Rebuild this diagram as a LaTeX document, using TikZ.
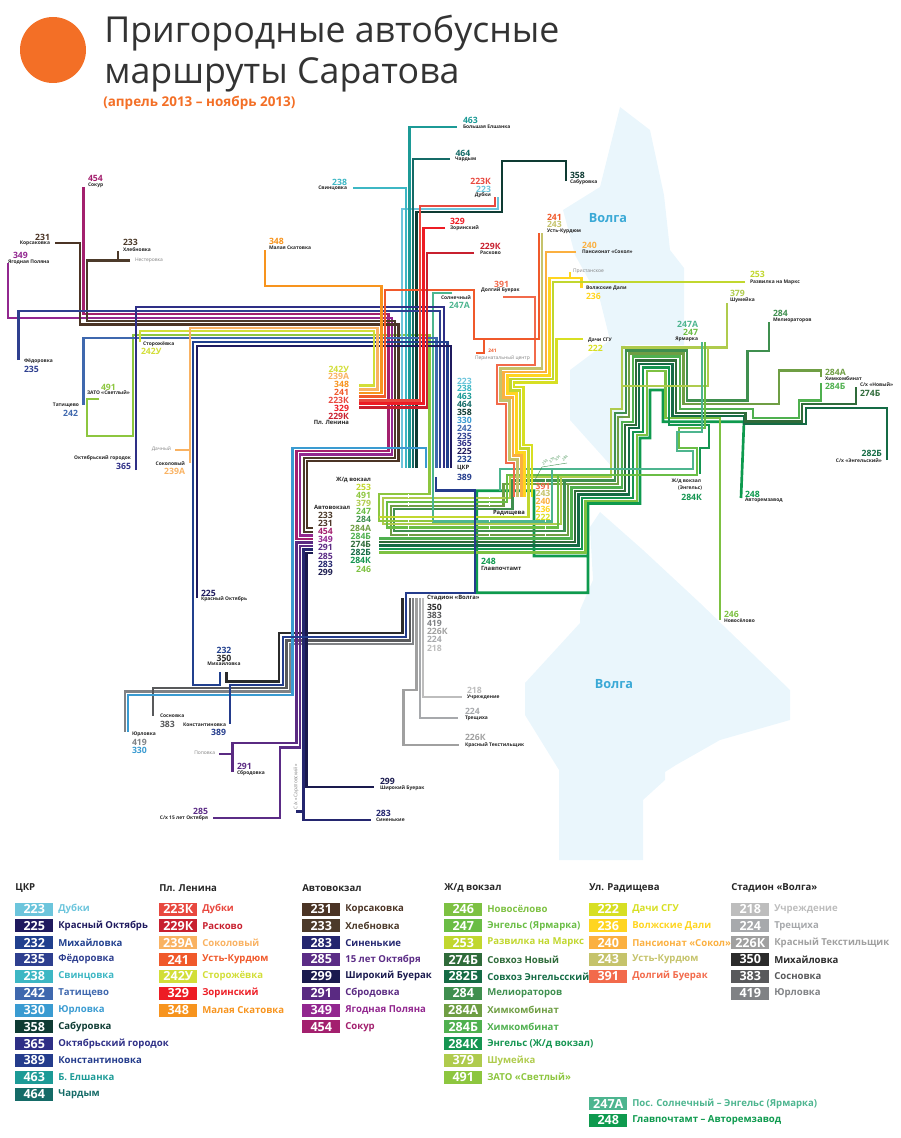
\documentclass[tikz,border=0pt]{standalone}
\usepackage{fontspec}
\setmainfont{Open Sans}
\usetikzlibrary{positioning}
% legend colours
\definecolor{c223}{HTML}{6CC5DC}\definecolor{c225}{HTML}{1F1A5E}\definecolor{c232}{HTML}{21408E}
\definecolor{c235}{HTML}{2E3F8F}\definecolor{c238}{HTML}{3DB7C4}\definecolor{c242}{HTML}{3F68AE}
\definecolor{c330}{HTML}{3A9BD1}\definecolor{c358}{HTML}{0E3B33}\definecolor{c365}{HTML}{2E2F86}
\definecolor{c389}{HTML}{243C8C}\definecolor{c463}{HTML}{1C9A96}\definecolor{c464}{HTML}{156B67}
\definecolor{c223k}{HTML}{E8483F}\definecolor{c229k}{HTML}{C8202F}\definecolor{c239a}{HTML}{F9B262}
\definecolor{c241}{HTML}{F0592B}\definecolor{c242u}{HTML}{D2DE38}\definecolor{c329}{HTML}{ED1C24}
\definecolor{c348}{HTML}{F7941E}\definecolor{c231}{HTML}{4B3425}\definecolor{c233}{HTML}{4C3A2A}
\definecolor{c283}{HTML}{24266F}\definecolor{c285}{HTML}{5B2C86}\definecolor{c299}{HTML}{1A1A4E}
\definecolor{c291}{HTML}{5A2A82}\definecolor{c349}{HTML}{92278F}\definecolor{c454}{HTML}{A3206E}
\definecolor{c246}{HTML}{7DC142}\definecolor{c247}{HTML}{6ABD45}\definecolor{c253}{HTML}{C1D72F}
\definecolor{c274b}{HTML}{2F6B3A}\definecolor{c282b}{HTML}{156B45}\definecolor{c284}{HTML}{3F8F4F}
\definecolor{c284a}{HTML}{6F9E44}\definecolor{c284b}{HTML}{4FB04F}\definecolor{c284k}{HTML}{159551}
\definecolor{c379}{HTML}{AFCB4D}\definecolor{c491}{HTML}{8DC63F}\definecolor{c222}{HTML}{D7DF23}
\definecolor{c236}{HTML}{FFD520}\definecolor{c240}{HTML}{FBB040}\definecolor{c243}{HTML}{C5C36B}
\definecolor{c391}{HTML}{F26A4B}\definecolor{c218}{HTML}{BDBDBD}\definecolor{c224}{HTML}{A7A9AC}
\definecolor{c226k}{HTML}{A0A0A0}\definecolor{c350}{HTML}{2B2B2B}\definecolor{c383}{HTML}{58595B}
\definecolor{c419}{HTML}{808285}\definecolor{c247a}{HTML}{4DB58F}\definecolor{c248}{HTML}{0E9A4E}
\definecolor{corange}{HTML}{F36F26}\definecolor{cwater}{HTML}{EAF6FC}\definecolor{criver}{HTML}{3AA9D6}
\tikzset{
	route/.style={line width=2pt},
	numlbl/.style={font=\fontsize{6.5}{7}\selectfont\bfseries, inner sep=0pt, outer sep=0pt, text height=5.2pt, text depth=.7pt},
	stoplbl/.style={font=\fontsize{3.7}{5}\selectfont\bfseries, inner sep=0pt, outer sep=0pt, text=black!85},
	greylbl/.style={font=\fontsize{3.7}{5}\selectfont, inner sep=0pt, outer sep=0pt, text=black!50},
	hublbl/.style={font=\fontsize{4.4}{6}\selectfont\bfseries, inner sep=0pt, outer sep=0pt, text=black!85},
	tinylbl/.style={font=\fontsize{2.8}{3}\selectfont, inner sep=0pt, outer sep=0pt, rotate=45, text=c284},
	stackW/.style={below=of #1.south west, anchor=north west},
	stackE/.style={below=of #1.south east, anchor=north east},
	legbox/.style={anchor=west, inner sep=0pt, minimum width=28.5pt, minimum height=9.75pt, text=white, font=\fontsize{9.4}{10}\selectfont\bfseries},
	legname/.style={anchor=west, inner sep=0pt, font=\fontsize{7.2}{8}\selectfont\bfseries},
	leghead/.style={anchor=west, inner sep=0pt, font=\fontsize{7.2}{8}\selectfont\bfseries, text=black!85}
}
\newcommand{\route}[2]{\draw[route, draw=#1] #2;}
\newcommand{\legrow}[6]{%
	\node[legbox, fill=#4] (box#1) at (#2,#3) {#5};
	\node[legname, text=#4] (txt#1) at ({#2+43},#3) {#6};}
\begin{document}
\begin{tikzpicture}[x=.75pt, y=-.75pt, node distance=0pt]
	\useasboundingbox (0,0) rectangle (900,1138);
	% river
	\fill[cwater] (620,107) -- (650,130) -- (664,195) -- (670,250) -- (684,268) -- (684,345) -- (625,345) -- (622,478) -- (570,420) -- (570,370) -- (610,340) -- (600,300) -- (575,255) -- (563,210) -- (600,187) -- cycle;
	\fill[cwater] (600,512) -- (643,550) -- (700,603) -- (790,690) -- (790,720) -- (720,740) -- (676,765) -- (665,772) -- (665,780) -- (643,800) -- (643,860) -- (559,860) -- (559,770) -- (525,715) -- (525,683) -- (580,623) -- (580,610) -- (593,580) -- (590,527) -- cycle;
	\node[font=\fontsize{9.5}{10}\selectfont\bfseries, text=criver, inner sep=0pt] (volgaup) at (608,218) {Волга};
	\node[font=\fontsize{9.5}{10}\selectfont\bfseries, text=criver, inner sep=0pt] (volgalow) at (614,684) {Волга};
	% title
	\fill[corange] (53,50) circle (33);
	\node[anchor=base west, inner sep=0pt, font=\fontsize{26.8}{28}\selectfont, text=black!80] (title1) at (104,43) {Пригородные автобусные};
	\node[anchor=base west, inner sep=0pt, font=\fontsize{26.8}{28}\selectfont, text=black!80] (title2) at (104,84) {маршруты Саратова};
	\node[anchor=west, inner sep=0pt, font=\fontsize{10.1}{11}\selectfont\bfseries, text=corange] (period) at (103,103) {(апрель 2013 – ноябрь 2013)};
	% Stadion Volga
	\route{c218}{(423,598) -- (423,697) -- (461.7,697)}
	\route{c224}{(420,598) -- (420,718) -- (458,718)}
	\route{c226k}{(416.7,598) -- (416.7,690) -- (403.3,690) -- (403.3,745) -- (459,745)}
	\route{c419}{(413,598) -- (413,644) -- (290,644) -- (290,691.7) -- (125,691.7) -- (125,731.7)}
	\route{c383}{(410,598) -- (410,640.5) -- (286.7,640.5) -- (286.7,688) -- (153,688) -- (153,716)}
	\route{c350}{(402.7,598) -- (402.7,633) -- (279,633) -- (279,681.7) -- (226.7,681.7) -- (226.7,672)}
	% Zhd vokzal and the Volga bridge
	\route{c248}{(741,498) -- (744,421.7) -- (663,421.7) -- (663,390) -- (650,390) -- (650,438) -- (640,438) -- (640,503.5) -- (588,503.5) -- (588,556) -- (534,556) -- (534,490.7) -- (476.7,490.7) -- (476.7,592.7) -- (588,592.7) -- (588,556)}
	\route{c246}{(720,620) -- (720,418) -- (665.7,418) -- (665.7,371) -- (647,371) -- (647,435) -- (637,435) -- (637,501) -- (585.5,501) -- (585.5,552.7) -- (379,552.7)}
	\route{c284k}{(700,474) -- (700,448) -- (709,448) -- (709,425) -- (669,425) -- (669,367.7) -- (643,367.7) -- (643,432) -- (633,432) -- (633,498) -- (582,498) -- (582,549) -- (379,549)}
	\route{c282b}{(887,460) -- (887,408) -- (806,408) -- (806,424) -- (744,424) -- (744,416) -- (672.7,416) -- (672.7,364) -- (639,364) -- (639,428) -- (629,428) -- (629,494.5) -- (578.5,494.5) -- (578.5,545.5) -- (379,545.5)}
	\route{c274b}{(856,387) -- (856,404) -- (802,404) -- (802,421.7) -- (745.7,421.7) -- (745.7,413) -- (676,413) -- (676,360.7) -- (636,360.7) -- (636,425) -- (625,425) -- (625,491) -- (575,491) -- (575,542) -- (379,542)}
	\route{c284b}{(821,383) -- (821,400.7) -- (799,400.7) -- (799,418) -- (753,418) -- (753,409) -- (680,409) -- (680,356.7) -- (633,356.7) -- (633,422) -- (622,422) -- (622,487.5) -- (571.5,487.5) -- (571.5,538.4) -- (379,538.4)}
	\route{c284a}{(821,377) -- (821,370.7) -- (779,370.7) -- (779,404) -- (683.3,404) -- (683.3,353.7) -- (629,353.7) -- (629,417) -- (618,417) -- (618,484) -- (503.5,484) -- (503.5,506) -- (391,506) -- (391,535) -- (568,535) -- (568,484)}
	\route{c284}{(769,322) -- (769,351) -- (747.7,351) -- (747.7,400.7) -- (687,400.7) -- (687,350.7) -- (626,350.7) -- (626,413) -- (615,413) -- (615,480.5) -- (512.5,480.5) -- (512.5,509) -- (394,509) -- (394,531) -- (564.5,531) -- (564.5,480.5)}
	\route{c379}{(727,303) -- (727,347.7) -- (622,347.7) -- (622,409) -- (611,409) -- (611,477) -- (510,477) -- (510,498) -- (383,498) -- (383,524) -- (561,524) -- (561,477)}
	\route{c379}{(622,386) -- (708,386) -- (708,347.7)}
	\route{c247}{(705,342) -- (705,428) -- (679,428) -- (679,448) -- (697,448) -- (697,475) -- (507,475) -- (507,502) -- (387,502) -- (387,527.7) -- (558,527.7) -- (558,475)}
	\route{c247a}{(452,293) -- (433,293) -- (433,521.7) -- (552,521.7) -- (552,469) -- (693,469) -- (693,451) -- (677,451) -- (677,432) -- (702,432) -- (702,342)}
	\route{c247a}{(552,469) -- (500,469) -- (500,491)}
	\route{c491}{(99,399) -- (87,399) -- (87,436) -- (133,436) -- (133,335) -- (429.5,335) -- (429.5,494) -- (379,494) -- (379,521) -- (433,521)}
	% Radishcheva stairs
	\route{c391}{(503,297) -- (535,297) -- (535,365) -- (497,365) -- (497,404) -- (506,404) -- (506,463) -- (514,463) -- (514,497)}
	\route{c243}{(542,233) -- (542,368.5) -- (500.4,368.5) -- (500.4,400.6) -- (509.5,400.6) -- (509.5,459.4) -- (517.6,459.4) -- (517.6,497)}
	\route{c240}{(576,252) -- (546,252) -- (546,372) -- (503.8,372) -- (503.8,397.2) -- (513,397.2) -- (513,455.8) -- (521.2,455.8) -- (521.2,497)}
	\route{c236}{(581.7,288) -- (581.7,278) -- (549.5,278) -- (549.5,375.5) -- (507.2,375.5) -- (507.2,393.8) -- (516.5,393.8) -- (516.5,452.2) -- (524.8,452.2) -- (524.8,497)}
	\route{c236}{(570,278) -- (570,271.7)}
	\route{c253}{(745,282) -- (553,282) -- (553,379) -- (510.6,379) -- (510.6,390.4) -- (520,390.4) -- (520,448.6) -- (528.4,448.6) -- (528.4,517) -- (379,517)}
	\route{c222}{(583,339) -- (556.5,339) -- (556.5,382.5) -- (514,382.5) -- (514,387) -- (523.5,387) -- (523.5,445) -- (532,445) -- (532,497)}
	% Avtovokzal
	\route{c299}{(313,553) -- (306.7,553) -- (306.7,787) -- (374,787)}
	\route{c283}{(313,549.5) -- (303.3,549.5) -- (303.3,820) -- (370.7,820)}
	\route{c283}{(296,811.7) -- (303.3,811.7)}
	\route{c285}{(313,546) -- (300,546) -- (300,747.7) -- (280,747.7) -- (280,818) -- (212.7,818)}
	\route{c291}{(313,542.5) -- (296.7,542.5) -- (296.7,743) -- (232.7,743) -- (232.7,771.7)}
	\route{c291}{(219,754) -- (232.7,754)}
	\route{c454}{(83.3,187) -- (83.3,314) -- (388.7,314) -- (388.7,451) -- (296.7,451) -- (296.7,539) -- (313,539)}
	\route{c349}{(8,263) -- (8,318) -- (392,318) -- (392,454.5) -- (300,454.5) -- (300,535.5) -- (313,535.5)}
	\route{c233}{(130,260.7) -- (87,260.7) -- (87,321) -- (395,321) -- (395,458) -- (304,458) -- (304,532) -- (313,532)}
	\route{c233}{(118,251) -- (118,260.7)}
	\route{c231}{(55,243) -- (80,243) -- (80,324.7) -- (398.7,324.7) -- (398.7,461) -- (307,461) -- (307,528) -- (313,528)}
	% CKR
	\route{c223}{(498,197) -- (498,209) -- (402,209) -- (402,468)}
	\route{c238}{(353,188) -- (406,188) -- (406,468)}
	\route{c463}{(457,127) -- (409.5,127) -- (409.5,468)}
	\route{c464}{(450,159) -- (413,159) -- (413,468)}
	\route{c358}{(566,181) -- (566,161) -- (502,161) -- (502,212) -- (416.5,212) -- (416.5,468)}
	\route{c330}{(128,731.7) -- (128,695) -- (292.7,695) -- (292.7,448) -- (426,448) -- (426,468)}
	\route{c242}{(83.3,405) -- (83.3,338) -- (436.5,338) -- (436.5,468)}
	\route{c235}{(18.7,360) -- (18.7,311) -- (440,311) -- (440,468)}
	\route{c365}{(136,470) -- (136,307) -- (444,307) -- (444,468)}
	\route{c232}{(220,672) -- (220,685) -- (193,685) -- (193,342) -- (447.5,342) -- (447.5,468)}
	\route{c225}{(197,598) -- (197,346) -- (451,346) -- (451,468)}
	\route{c389}{(436,477) -- (436,490.7) -- (475,490.7) -- (475,593) -- (406,593) -- (406,637) -- (283,637) -- (283,685) -- (230,685) -- (230,724)}
	% Pl. Lenina
	\route{c242u}{(140,342) -- (140,331) -- (374,331) -- (374,385.7) -- (359,385.7)}
	\route{c239a}{(190,463) -- (190,328) -- (377.5,328) -- (377.5,389.3) -- (359,389.3)}
	\route{c239a}{(175,450) -- (190,450)}
	\route{c348}{(265,250) -- (265,286) -- (381.5,286) -- (381.5,393) -- (359,393)}
	\route{c241}{(539,233) -- (539,339) -- (474,339) -- (474,290) -- (385,290) -- (385,396.7) -- (359,396.7)}
	\route{c241}{(484,339) -- (484,353) -- (476,353)}
	\route{c223k}{(495,197) -- (495,206) -- (420,206) -- (420,400.3) -- (359,400.3)}
	\route{c329}{(445,228) -- (423.5,228) -- (423.5,403.8) -- (359,403.8)}
	\route{c229k}{(474,253) -- (427,253) -- (427,407.3) -- (359,407.3)}
	% white marks on the rows
	\draw[white, line width=.5pt, dashed] (408,494) -- (408,536) (489,494) -- (489,536) (545,470) -- (545,536);
	\draw[c284, line width=.3pt] (535,480) -- (542,467) -- (567,463);
	\node[tinylbl] (ti1) at (545,462) {253};
	\node[tinylbl] (ti2) at (552,460) {379};
	\node[tinylbl] (ti3) at (558,458) {491};
	\node[tinylbl] (ti4) at (565,458) {284};
	% map labels, north
	\node[numlbl, text=c463, anchor=west] (n463) at (463,120) {463};
	\node[stoplbl, anchor=west] (s463) at (463,127) {Большая Елшанка};
	\node[numlbl, text=c464, anchor=west] (n464) at (455.5,153) {464};
	\node[stoplbl, anchor=west] (s464) at (455,159) {Чардым};
	\node[numlbl, text=c358, anchor=west] (n358) at (570,175) {358};
	\node[stoplbl, anchor=west] (s358) at (570,182) {Сабуровка};
	\node[numlbl, text=c238, anchor=east] (n238) at (347,182) {238};
	\node[stoplbl, anchor=east] (s238) at (347,188) {Свинцовка};
	\node[numlbl, text=c223k, anchor=east] (n223k) at (491,181) {223К};
	\node[numlbl, text=c223, anchor=east] (n223) at (491,189) {223};
	\node[stoplbl, anchor=east] (s223) at (491,195) {Дубки};
	\node[numlbl, text=c329, anchor=west] (n329) at (450,221) {329};
	\node[stoplbl, anchor=west] (s329) at (450,228) {Зоринский};
	\node[numlbl, text=c229k, anchor=west] (n229k) at (480,246) {229К};
	\node[stoplbl, anchor=west] (s229k) at (480,253) {Расково};
	\node[numlbl, text=c241, anchor=west] (n241) at (547,217) {241};
	\node[numlbl, text=c243, anchor=west] (n243) at (547,224.7) {243};
	\node[stoplbl, anchor=west] (s241) at (547,231) {Усть-Курдюм};
	\node[numlbl, text=c240, anchor=west] (n240) at (582,245) {240};
	\node[stoplbl, anchor=west] (s240) at (582,252) {Пансионат «Сокол»};
	\node[greylbl, anchor=west] (pristan) at (573,271) {Пристанское};
	\node[stoplbl, anchor=west] (s236) at (586,288) {Волжские Дали};
	\node[numlbl, text=c236, anchor=west] (n236) at (586,296) {236};
	\node[stoplbl, anchor=west] (s222) at (588,340) {Дачи СГУ};
	\node[numlbl, text=c222, anchor=west] (n222) at (588,348) {222};
	\node[numlbl, text=c253, anchor=west] (n253) at (750,274) {253};
	\node[stoplbl, anchor=west] (s253) at (750,282) {Развилка на Маркс};
	\node[numlbl, text=c379, anchor=west] (n379) at (730,293) {379};
	\node[stoplbl, anchor=west] (s379) at (730,300) {Шумейка};
	\node[numlbl, text=c284, anchor=west] (n284) at (773,313) {284};
	\node[stoplbl, anchor=west] (s284) at (773,320) {Мелиораторов};
	\node[numlbl, text=c247a, anchor=east] (n247a) at (698,324.6) {247А};
	\node[numlbl, text=c247, anchor=east] (n247) at (698,332) {247};
	\node[stoplbl, anchor=east] (s247) at (698,339) {Ярмарка};
	\node[numlbl, text=c284a, anchor=west] (n284a) at (825,372) {284А};
	\node[stoplbl, anchor=west] (s284a) at (825,379) {Химкомбинат};
	\node[numlbl, text=c284b, anchor=west] (n284b) at (825,386) {284Б};
	\node[stoplbl, anchor=west] (s274b) at (860,385) {С/х «Новый»};
	\node[numlbl, text=c274b, anchor=west] (n274b) at (860,393) {274Б};
	\node[numlbl, text=c282b, anchor=east] (n282b) at (882,453) {282Б};
	\node[stoplbl, anchor=east] (s282b) at (882,461) {С/х «Энгельский»};
	\node[stoplbl, anchor=east] (s284k) at (701,481) {Ж/д вокзал};
	\node[stoplbl, anchor=east] (s284k2) at (702,488) {(Энгельс)};
	\node[numlbl, text=c284k, anchor=east] (n284k) at (702,497) {284К};
	\node[numlbl, text=c248, anchor=west] (n248e) at (745,494) {248};
	\node[stoplbl, anchor=west] (s248e) at (745,500) {Авторемзавод};
	\node[numlbl, text=c246, anchor=west] (n246e) at (724,614) {246};
	\node[stoplbl, anchor=west] (s246) at (724,621) {Новосёлово};
	\node[numlbl, text=c391, anchor=east] (n391) at (509,284) {391};
	\node[stoplbl, anchor=west] (s391) at (481,290) {Долгий Буерак};
	\node[font=\fontsize{3.6}{4}\selectfont\bfseries, text=c241, inner sep=0pt, anchor=west] (n241p) at (488,351) {241};
	\node[greylbl, anchor=west] (s241p) at (475,358) {Перинатальный центр};
	\node[stoplbl, anchor=west] (s247a) at (441,298) {Солнечный};
	\node[numlbl, text=c247a, anchor=west] (n247as) at (449,305) {247А};
	\node[numlbl, text=c248, anchor=west] (n248m) at (481,561) {248};
	\node[hublbl, anchor=west] (s248m) at (481,568) {Главпочтамт};
	% map labels, west
	\node[numlbl, text=c348, anchor=west] (n348) at (269,241) {348};
	\node[stoplbl, anchor=west] (s348) at (269,248) {Малая Скатовка};
	\node[numlbl, text=c454, anchor=west] (n454) at (88,178) {454};
	\node[stoplbl, anchor=west] (s454) at (88,185) {Сокур};
	\node[numlbl, text=c231, anchor=east] (n231) at (50,237) {231};
	\node[stoplbl, anchor=east] (s231) at (50,243) {Корсаковка};
	\node[numlbl, text=c233, anchor=west] (n233) at (123,242) {233};
	\node[stoplbl, anchor=west] (s233) at (123,250) {Хлебновка};
	\node[greylbl, anchor=west] (nest) at (135,260.5) {Нестеровка};
	\node[numlbl, text=c349, anchor=west] (n349) at (13,255) {349};
	\node[stoplbl, anchor=west] (s349) at (8,262) {Ягодная Поляна};
	\node[stoplbl, anchor=west] (s235) at (24,361) {Фёдоровка};
	\node[numlbl, text=c235, anchor=west] (n235) at (24,369) {235};
	\node[stoplbl, anchor=west] (s242u) at (143,344) {Сторожёвка};
	\node[numlbl, text=c242u, anchor=west] (n242u) at (141,351) {242У};
	\node[numlbl, text=c491, anchor=west] (n491) at (101,387) {491};
	\node[stoplbl, anchor=west] (s491) at (87,393) {ЗАТО «Светлый»};
	\node[stoplbl, anchor=east] (s242) at (79,405) {Татищево};
	\node[numlbl, text=c242, anchor=east] (n242) at (78,413) {242};
	\node[stoplbl, anchor=east] (s365) at (131,458) {Октябрьский городок};
	\node[numlbl, text=c365, anchor=east] (n365) at (131,466) {365};
	\node[greylbl, anchor=east] (dachny) at (171,449) {Дачный};
	\node[stoplbl, anchor=east] (s239a) at (185,464) {Соколовый};
	\node[numlbl, text=c239a, anchor=east] (n239a) at (185,471) {239А};
	\node[numlbl, text=c225, anchor=west] (n225) at (201,593) {225};
	\node[stoplbl, anchor=west] (s225) at (201,599) {Красный Октябрь};
	\node[numlbl, text=c232, anchor=center] (n232) at (224,650) {232};
	\node[numlbl, text=c350, anchor=center] (n350) at (224,658) {350};
	\node[stoplbl, anchor=center] (s232) at (224,664) {Михайловка};
	\node[stoplbl, anchor=west] (s383) at (160,716) {Сосновка};
	\node[numlbl, text=c383, anchor=west] (n383) at (160,724) {383};
	\node[stoplbl, anchor=west] (s419) at (132,734) {Юрловка};
	\node[numlbl, text=c419, anchor=west] (n419) at (132,742.7) {419};
	\node[numlbl, text=c330, anchor=west] (n330) at (132,750) {330};
	\node[stoplbl, anchor=east] (s389) at (226,725) {Константиновка};
	\node[numlbl, text=c389, anchor=east] (n389) at (226,732) {389};
	\node[greylbl, anchor=east] (popovka) at (215,753) {Поповка};
	\node[numlbl, text=c291, anchor=west] (n291) at (237,766) {291};
	\node[stoplbl, anchor=west] (s291) at (237,773) {Сбродовка};
	\node[numlbl, text=c285, anchor=east] (n285) at (208,811) {285};
	\node[stoplbl, anchor=east] (s285) at (208,818) {С/х 15 лет Октября};
	\node[numlbl, text=c299, anchor=west] (n299) at (380,781) {299};
	\node[stoplbl, anchor=west] (s299) at (380,788) {Широкий Буерак};
	\node[numlbl, text=c283, anchor=west] (n283) at (376,813) {283};
	\node[stoplbl, anchor=west] (s283) at (376,820) {Синенькие};
	\node[greylbl, rotate=90, anchor=west] (sarat) at (296,809) {С/х «Саратовский»};
	\node[numlbl, text=c218, anchor=west] (n218e) at (467,690) {218};
	\node[stoplbl, anchor=west] (s218) at (467,697) {Учреждение};
	\node[numlbl, text=c224, anchor=west] (n224e) at (465,711) {224};
	\node[stoplbl, anchor=west] (s224) at (465,718) {Трещиха};
	\node[numlbl, text=c226k, anchor=west] (n226e) at (465,737.6) {226К};
	\node[stoplbl, anchor=west] (s226) at (465,745) {Красный Текстильщик};
	% hubs with a stack of numbers
	\node[numlbl, text=c242u, anchor=east] (pl1) at (349,369) {242У};
	\node[numlbl, text=c239a, stackE=pl1] (pl2) {239А};
	\node[numlbl, text=c348, stackE=pl2] (pl3) {348};
	\node[numlbl, text=c241, stackE=pl3] (pl4) {241};
	\node[numlbl, text=c223k, stackE=pl4] (pl5) {223К};
	\node[numlbl, text=c329, stackE=pl5] (pl6) {329};
	\node[numlbl, text=c229k, stackE=pl6] (pl7) {229К};
	\node[hublbl, anchor=east] (plhub) at (349,422) {Пл. Ленина};
	\node[numlbl, text=c223, anchor=west] (ck1) at (457,381) {223};
	\node[numlbl, text=c238, stackW=ck1] (ck2) {238};
	\node[numlbl, text=c463, stackW=ck2] (ck3) {463};
	\node[numlbl, text=c464, stackW=ck3] (ck4) {464};
	\node[numlbl, text=c358, stackW=ck4] (ck5) {358};
	\node[numlbl, text=c330, stackW=ck5] (ck6) {330};
	\node[numlbl, text=c242, stackW=ck6] (ck7) {242};
	\node[numlbl, text=c235, stackW=ck7] (ck8) {235};
	\node[numlbl, text=c365, stackW=ck8] (ck9) {365};
	\node[numlbl, text=c225, stackW=ck9] (ck10) {225};
	\node[numlbl, text=c232, stackW=ck10] (ck11) {232};
	\node[hublbl, anchor=west] (ckhub) at (457,468) {ЦКР};
	\node[numlbl, text=c389, anchor=west] (ck12) at (457,477) {389};
	\begin{scope}[node distance=.25pt]
		\node[hublbl, anchor=east] (zdhub) at (371,480) {Ж/д вокзал};
		\node[numlbl, text=c253, anchor=east] (zd1) at (371,487) {253};
		\node[numlbl, text=c491, stackE=zd1] (zd2) {491};
		\node[numlbl, text=c379, stackE=zd2] (zd3) {379};
		\node[numlbl, text=c247, stackE=zd3] (zd4) {247};
		\node[numlbl, text=c284, stackE=zd4] (zd5) {284};
		\node[numlbl, text=c284a, stackE=zd5] (zd6) {284А};
		\node[numlbl, text=c284b, stackE=zd6] (zd7) {284Б};
		\node[numlbl, text=c274b, stackE=zd7] (zd8) {274Б};
		\node[numlbl, text=c282b, stackE=zd8] (zd9) {282Б};
		\node[numlbl, text=c284k, stackE=zd9] (zd10) {284К};
		\node[numlbl, text=c246, stackE=zd10] (zd11) {246};
		\node[hublbl, anchor=west] (avhub) at (314,507) {Автовокзал};
		\node[numlbl, text=c233, anchor=west] (av1) at (318,515) {233};
		\node[numlbl, text=c231, stackW=av1] (av2) {231};
		\node[numlbl, text=c454, stackW=av2] (av3) {454};
		\node[numlbl, text=c349, stackW=av3] (av4) {349};
		\node[numlbl, text=c291, stackW=av4] (av5) {291};
		\node[numlbl, text=c285, stackW=av5] (av6) {285};
		\node[numlbl, text=c283, stackW=av6] (av7) {283};
		\node[numlbl, text=c299, stackW=av7] (av8) {299};
		\node[hublbl, anchor=west] (sthub) at (427,598) {Стадион «Волга»};
		\node[numlbl, text=c350, anchor=west] (st1) at (427,607) {350};
		\node[numlbl, text=c383, stackW=st1] (st2) {383};
		\node[numlbl, text=c419, stackW=st2] (st3) {419};
		\node[numlbl, text=c226k, stackW=st3] (st4) {226К};
		\node[numlbl, text=c224, stackW=st4] (st5) {224};
		\node[numlbl, text=c218, stackW=st5] (st6) {218};
	\end{scope}
	\node[numlbl, text=c391, anchor=center] (ra1) at (543,486) {391};
	\node[numlbl, text=c243, stackW=ra1] (ra2) {243};
	\node[numlbl, text=c240, stackW=ra2] (ra3) {240};
	\node[numlbl, text=c236, stackW=ra3] (ra4) {236};
	\node[numlbl, text=c222, stackW=ra4] (ra5) {222};
	\node[hublbl, anchor=west] (rahub) at (493,513) {Радищева};
	% legend
	\node[leghead] (h1) at (15,888) {ЦКР};
	\legrow{a}{15}{909}{c223}{223}{Дубки}
	\legrow{b}{15}{925.8}{c225}{225}{Красный Октябрь}
	\legrow{c}{15}{942.6}{c232}{232}{Михайловка}
	\legrow{d}{15}{959.5}{c235}{235}{Фёдоровка}
	\legrow{e}{15}{976.3}{c238}{238}{Свинцовка}
	\legrow{f}{15}{993.1}{c242}{242}{Татищево}
	\legrow{g}{15}{1010}{c330}{330}{Юрловка}
	\legrow{h}{15}{1026.8}{c358}{358}{Сабуровка}
	\legrow{i}{15}{1043.6}{c365}{365}{Октябрьский городок}
	\legrow{j}{15}{1060.4}{c389}{389}{Константиновка}
	\legrow{k}{15}{1077.2}{c463}{463}{Б. Елшанка}
	\legrow{l}{15}{1094}{c464}{464}{Чардым}
	\node[leghead] (h2) at (159,888) {Пл. Ленина};
	\legrow{m}{159}{909}{c223k}{223К}{Дубки}
	\legrow{n}{159}{925.8}{c229k}{229К}{Расково}
	\legrow{o}{159}{942.6}{c239a}{239А}{Соколовый}
	\legrow{p}{159}{959.5}{c241}{241}{Усть-Курдюм}
	\legrow{q}{159}{976.3}{c242u}{242У}{Сторожёвка}
	\legrow{r}{159}{993.1}{c329}{329}{Зоринский}
	\legrow{s}{159}{1010}{c348}{348}{Малая Скатовка}
	\node[leghead] (h3) at (302,888) {Автовокзал};
	\legrow{t}{302}{909}{c231}{231}{Корсаковка}
	\legrow{u}{302}{925.8}{c233}{233}{Хлебновка}
	\legrow{v}{302}{942.6}{c283}{283}{Синенькие}
	\legrow{w}{302}{959.5}{c285}{285}{15 лет Октября}
	\legrow{x}{302}{976.3}{c299}{299}{Широкий Буерак}
	\legrow{y}{302}{993.1}{c291}{291}{Сбродовка}
	\legrow{z}{302}{1010}{c349}{349}{Ягодная Поляна}
	\legrow{aa}{302}{1026.8}{c454}{454}{Сокур}
	\node[leghead] (h4) at (444,888) {Ж/д вокзал};
	\legrow{ab}{444}{909}{c246}{246}{Новосёлово}
	\legrow{ac}{444}{925.8}{c247}{247}{Энгельс (Ярмарка)}
	\legrow{ad}{444}{942.6}{c253}{253}{Развилка на Маркс}
	\legrow{ae}{444}{959.5}{c274b}{274Б}{Совхоз Новый}
	\legrow{af}{444}{976.3}{c282b}{282Б}{Совхоз Энгельсский}
	\legrow{ag}{444}{993.1}{c284}{284}{Мелиораторов}
	\legrow{ah}{444}{1010}{c284a}{284А}{Химкомбинат}
	\legrow{ai}{444}{1026.8}{c284b}{284Б}{Химкомбинат}
	\legrow{aj}{444}{1043.6}{c284k}{284К}{Энгельс (Ж/д вокзал)}
	\legrow{ak}{444}{1060.4}{c379}{379}{Шумейка}
	\legrow{al}{444}{1077.2}{c491}{491}{ЗАТО «Светлый»}
	\node[leghead] (h5) at (589,888) {Ул. Радищева};
	\legrow{am}{589}{909}{c222}{222}{Дачи СГУ}
	\legrow{an}{589}{925.8}{c236}{236}{Волжские Дали}
	\legrow{ao}{589}{942.6}{c240}{240}{Пансионат «Сокол»}
	\legrow{ap}{589}{959.5}{c243}{243}{Усть-Курдюм}
	\legrow{aq}{589}{976.3}{c391}{391}{Долгий Буерак}
	\legrow{ar}{589}{1103.5}{c247a}{247А}{Пос. Солнечный – Энгельс (Ярмарка)}
	\legrow{as}{589}{1120.5}{c248}{248}{Главпочтамт – Авторемзавод}
	\node[leghead] (h6) at (731,888) {Стадион «Волга»};
	\legrow{at}{731}{909}{c218}{218}{Учреждение}
	\legrow{au}{731}{925.8}{c224}{224}{Трещиха}
	\legrow{av}{731}{942.6}{c226k}{226К}{Красный Текстильщик}
	\legrow{aw}{731}{959.5}{c350}{350}{Михайловка}
	\legrow{ax}{731}{976.3}{c383}{383}{Сосновка}
	\legrow{ay}{731}{993.1}{c419}{419}{Юрловка}
\end{tikzpicture}
\end{document}
